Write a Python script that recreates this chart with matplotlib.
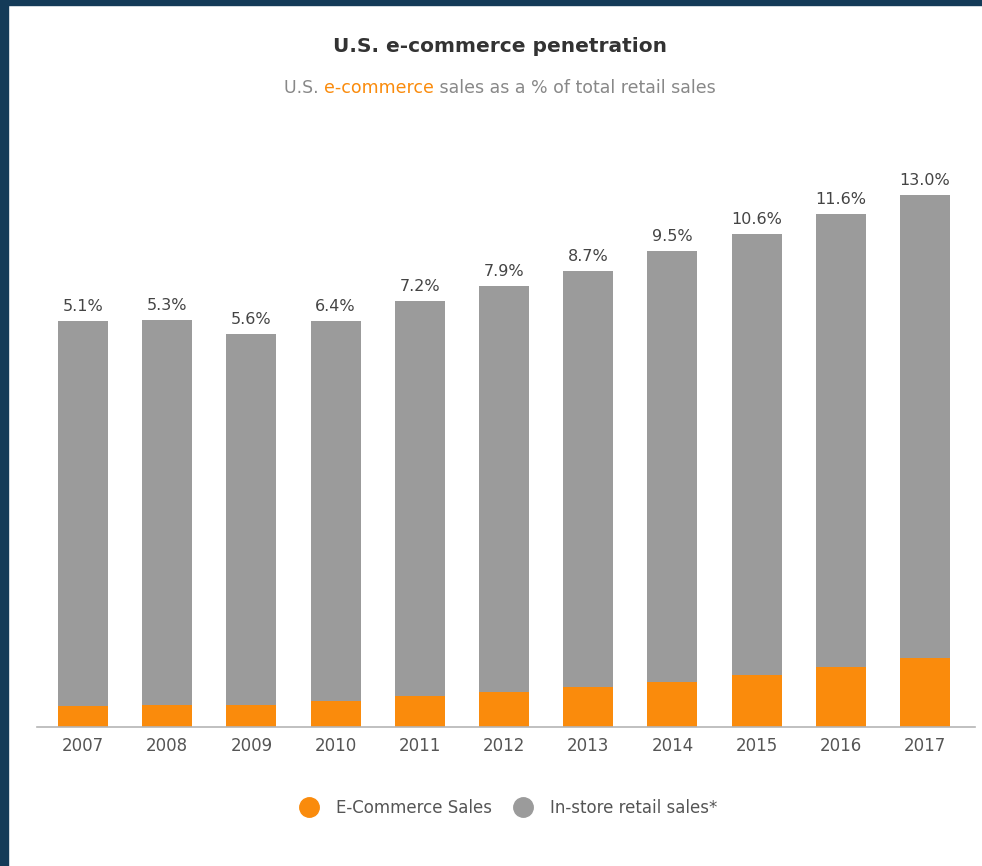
import matplotlib.pyplot as plt
from matplotlib.patches import Rectangle
from matplotlib.lines import Line2D

years = ["2007", "2008", "2009", "2010", "2011", "2012",
         "2013", "2014", "2015", "2016", "2017"]
# sales in $ billions
ecommerce = [136, 141, 144, 170, 201, 228, 260, 296, 342, 390, 453]
instore = [2523, 2525, 2430, 2489, 2589, 2661, 2727, 2822, 2887, 2970, 3032]
share_labels = ["5.1%", "5.3%", "5.6%", "6.4%", "7.2%", "7.9%",
                "8.7%", "9.5%", "10.6%", "11.6%", "13.0%"]

orange = "#fa8b0c"
grey = "#9b9b9b"
navy = "#143b58"

W, H = 982, 866
fig = plt.figure(figsize=(W / 100, H / 100), dpi=100)
fig.patch.set_facecolor("white")

# dark frame on the left and top edge
fig.patches.append(Rectangle((0, 0), 8 / W, 1, transform=fig.transFigure,
                             color=navy, zorder=0))
fig.patches.append(Rectangle((0, 1 - 5 / H), 1, 5 / H, transform=fig.transFigure,
                             color=navy, zorder=0))

ax_left, ax_right = 37, 975
ax_top, ax_bottom = 150, 727
ax = fig.add_axes([ax_left / W, 1 - ax_bottom / H,
                   (ax_right - ax_left) / W, (ax_bottom - ax_top) / H])

x = list(range(len(years)))
ax.bar(x, ecommerce, width=0.594, color=orange, zorder=2)
ax.bar(x, instore, width=0.594, bottom=ecommerce, color=grey, zorder=2)

for i in x:
    total = ecommerce[i] + instore[i]
    ax.annotate(share_labels[i], (i, total), xytext=(0, 5),
                textcoords="offset points", ha="center", va="bottom",
                fontsize=11.5, color="#444444")

ax.set_xlim(-0.546, 10.594)
ax.set_ylim(0, 577 * 6.55)
ax.set_xticks(x)
ax.set_xticklabels(years, fontsize=12, color="#555555")
ax.tick_params(axis="x", length=0, pad=7)
ax.set_yticks([])
for s in ["top", "left", "right"]:
    ax.spines[s].set_visible(False)
ax.spines["bottom"].set_color("#b5b5b5")
ax.spines["bottom"].set_linewidth(1.2)

# title and subtitle
fig.text(500 / W, 1 - 46 / H, "U.S. e-commerce penetration", ha="center",
         va="center", fontsize=14.5, fontweight="bold", color="#333333")

fig.canvas.draw()
r = fig.canvas.get_renderer()
parts = [("U.S. ", "#888888"), ("e-commerce", orange),
         (" sales as a % of total retail sales", "#888888")]
texts = [fig.text(0, 1 - 88 / H, p, ha="left", va="center", fontsize=12.5, color=c)
         for p, c in parts]
widths = [t.get_window_extent(r).width for t in texts]
start = 500 - sum(widths) / 2
for t, w in zip(texts, widths):
    t.set_x(start / W)
    start += w

handles = [Line2D([], [], marker="o", linestyle="", markersize=14,
                  markerfacecolor=orange, markeredgecolor=orange),
           Line2D([], [], marker="o", linestyle="", markersize=14,
                  markerfacecolor=grey, markeredgecolor=grey)]
fig.legend(handles, ["E-Commerce Sales", "In-store retail sales*"],
           loc="center", bbox_to_anchor=(505 / W, 1 - 808 / H), ncol=2,
           frameon=False, fontsize=12, labelcolor="#555555",
           handletextpad=0.6, columnspacing=0.9)

fig.savefig("out.png", dpi=100)
